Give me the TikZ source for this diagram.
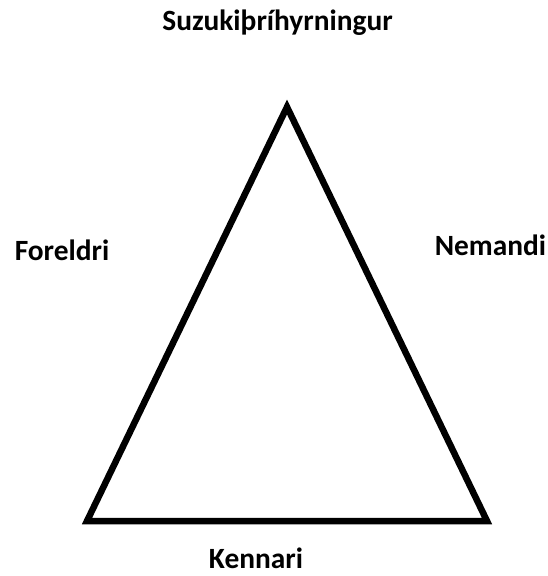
\documentclass[tikz,border=0pt]{standalone}
\usepackage{fontspec}
\setmainfont{Carlito}
\begin{document}
\begin{tikzpicture}[x=1bp,y=-1bp,
  lbl/.style={font=\fontsize{29.5}{32}\selectfont\bfseries, anchor=base, inner sep=0pt, text=black},
  edge/.style={line width=6.5bp, line join=miter, draw=black}]
\useasboundingbox[fill=white] (0,0) rectangle (548,576);
\node[lbl] (title) at (277.5,31) {Suzukiþríhyrningur};
\node[lbl] (foreldri) at (62,260) {Foreldri};
\node[lbl] (nemandi) at (490.5,255) {Nemandi};
\node[lbl] (kennari) at (256,568) {Kennari};
\coordinate (top) at (287,107);
\coordinate (bl) at (87,521);
\coordinate (br) at (487,521);
\draw[edge] (top) -- (bl) -- (br) -- cycle;
\end{tikzpicture}
\end{document}
